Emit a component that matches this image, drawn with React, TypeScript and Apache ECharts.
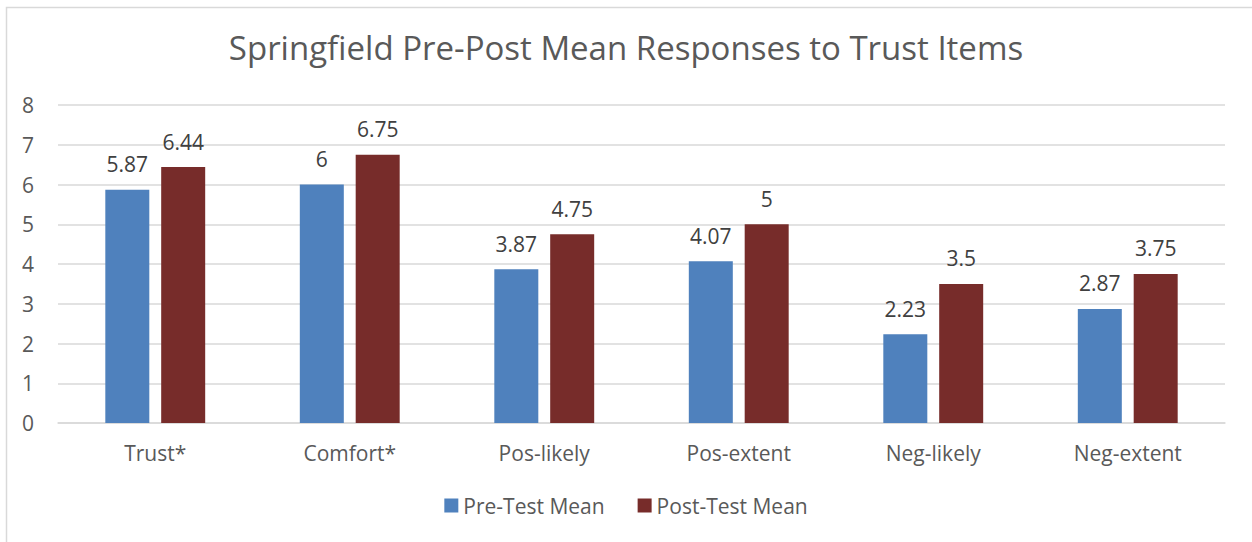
import React, { useEffect, useRef } from "react";
import * as echarts from "echarts";

const categories = ["Trust*", "Comfort*", "Pos-likely", "Pos-extent", "Neg-likely", "Neg-extent"];
const preTest = [5.87, 6, 3.87, 4.07, 2.23, 2.87];
const postTest = [6.44, 6.75, 4.75, 5, 3.5, 3.75];
const seriesNames = ["Pre-Test Mean", "Post-Test Mean"];
const title = "Springfield Pre-Post Mean Responses to Trust Items";

const FONT = "'Open Sans', Lato, sans-serif";
const TXT = "#595959";

export default function App() {
  const ref = useRef<HTMLDivElement>(null);
  useEffect(() => {
    if (!ref.current) return;
    const chart = echarts.init(ref.current, undefined, { renderer: "svg" });
    const label = {
      show: true,
      position: "top" as const,
      distance: 15,
      fontSize: 21,
      color: "#404040",
      fontFamily: FONT,
    };
    chart.setOption({
      animation: false,
      backgroundColor: "#ffffff",
      title: {
        text: title,
        left: "center",
        top: 26,
        textStyle: { fontSize: 33, fontWeight: "normal", color: TXT, fontFamily: FONT },
      },
      graphic: [
        {
          type: "rect",
          shape: { x: 6.5, y: 7.5, width: 1260, height: 560 },
          style: { fill: "none", stroke: "#d9d9d9", lineWidth: 1.5 },
          silent: true,
        },
      ],
      legend: {
        data: seriesNames,
        bottom: 21,
        left: "center",
        itemWidth: 14,
        itemHeight: 14,
        itemGap: 33,
        icon: "rect",
        textStyle: { fontSize: 21, color: TXT, fontFamily: FONT },
      },
      grid: { left: 58, right: 27, top: 105, bottom: 119 },
      xAxis: {
        type: "category",
        data: categories,
        axisLine: { lineStyle: { color: "#d9d9d9", width: 1.5 } },
        axisTick: { show: false },
        axisLabel: { fontSize: 21, color: TXT, fontFamily: FONT, margin: 19 },
      },
      yAxis: {
        type: "value",
        min: 0,
        max: 8,
        interval: 1,
        axisLine: { show: false },
        axisTick: { show: false },
        axisLabel: { fontSize: 21, color: TXT, fontFamily: FONT, margin: 24 },
        splitLine: { lineStyle: { color: "#d9d9d9", width: 1.5 } },
      },
      series: [
        {
          name: seriesNames[0],
          type: "bar",
          data: preTest,
          barWidth: 44,
          barGap: "27%",
          itemStyle: { color: "#4F81BD" },
          label,
        },
        {
          name: seriesNames[1],
          type: "bar",
          data: postTest,
          barWidth: 44,
          itemStyle: { color: "#772C2A" },
          label,
        },
      ],
    });
    return () => chart.dispose();
  }, []);
  return (
    <div
      ref={ref}
      style={{ position: "fixed", left: 0, top: 0, width: 1252, height: 542 }}
    />
  );
}
